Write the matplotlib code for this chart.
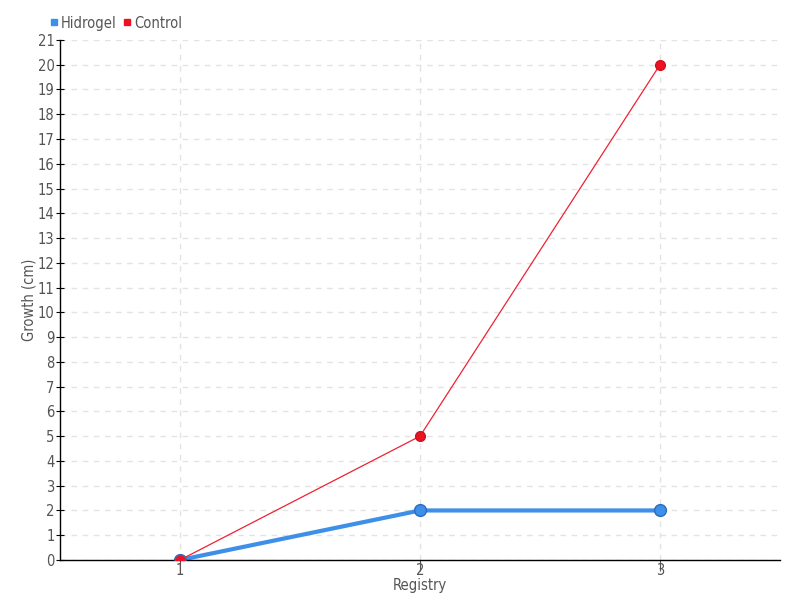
import matplotlib
matplotlib.use('Agg')
import matplotlib.pyplot as plt
from matplotlib.lines import Line2D
from matplotlib import font_manager

# datos
registros = [1, 2, 3]
hidrogel = [0, 2, 2]
control = [0, 5, 20]
y_ticks = list(range(0, 22))

# buscar una fuente estrecha si existe
nombres = {f.name for f in font_manager.fontManager.ttflist}
estrecha = [n for n in ['Liberation Sans Narrow', 'DejaVu Sans Condensed'] if n in nombres]
plt.rcParams['font.family'] = estrecha + ['DejaVu Sans']
plt.rcParams['font.stretch'] = 'condensed'

fig = plt.figure(figsize=(8, 6), dpi=100)
ax = fig.add_axes([0.075, 0.0667, 0.9, 0.8667])

ax.plot(registros, control, color='#ee2233', lw=0.9, marker='o', ms=7,
        markerfacecolor='#ee1122', markeredgecolor='#cc1122', zorder=3)
ax.plot(registros, hidrogel, color='#3d8fe8', lw=3, marker='o', ms=8.5,
        markerfacecolor='#3d8fe8', markeredgecolor='#2a6cc0', zorder=2)
# el punto rojo tapa al azul en el origen
ax.plot(registros[:1], control[:1], 'o', ms=8, color='#ee1122',
        markeredgecolor='#4466aa', zorder=4)

ax.set_xlim(0.5, 3.5)
ax.set_ylim(0, 21)
ax.set_xticks(registros)
ax.set_yticks(y_ticks)
ax.grid(True, color='#e3e3e3', linestyle=(0, (4, 4)), lw=1)
ax.set_axisbelow(True)

for s in ['top', 'right']:
    ax.spines[s].set_visible(False)
for s in ['left', 'bottom']:
    ax.spines[s].set_color('black')
    ax.spines[s].set_linewidth(1)

ax.tick_params(axis='y', direction='inout', length=6, labelsize=10.5,
               labelcolor='#555555', pad=1)
ax.tick_params(axis='x', direction='out', length=8, color='#555555',
               labelsize=10.5, labelcolor='#555555', pad=-6)

ax.set_xlabel('Registry', fontsize=10.5, color='#555555', labelpad=0.5)
ax.set_ylabel('Growth (cm)', fontsize=10.5, color='#555555')
ax.yaxis.set_label_coords(-0.033, 0.5)

handles = [Line2D([], [], marker='s', ls='', color='#3d8fe8', ms=5),
           Line2D([], [], marker='s', ls='', color='#ee1122', ms=5)]
fig.legend(handles, ['Hidrogel', 'Control'], loc='upper left',
           bbox_to_anchor=(0.045, 0.996), ncol=2, frameon=False,
           fontsize=10.5, handlelength=0.6, handletextpad=0.2,
           columnspacing=0.4, labelcolor='#555555')

fig.savefig('out.png', dpi=100)
